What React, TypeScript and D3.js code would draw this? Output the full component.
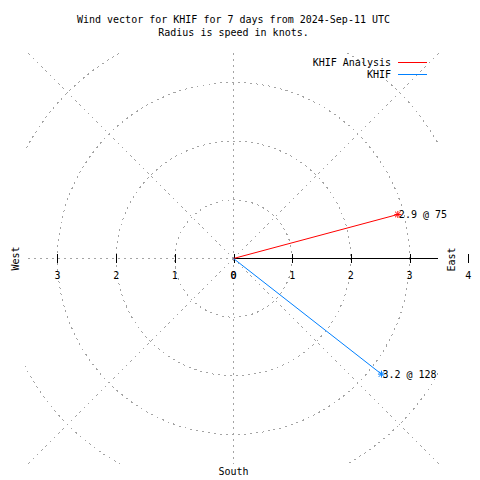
import React from "react";
import * as d3 from "d3";

const seriesNames = ["KHIF Analysis", "KHIF"];
const speeds = [2.9, 3.2];
const directions = [75, 128];
const seriesColors = ["#ff0000", "#0080ff"];
const rings = [1, 2, 3, 4];
const westTicks = [0, 1, 2, 3];
const eastTicks = [0, 1, 2, 3, 4];
const spokeAngles = [0, 45, 135, 180, 225, 270, 315];
const titleLines = [
  "Wind vector for KHIF for 7 days from 2024-Sep-11 UTC",
  "Radius is speed in knots.",
];

const W = 480;
const H = 480;
const cx = 233.5;
const cy = 258.5;
const clip = { x0: 25, y0: 52, x1: 439, y1: 464 };
const FONT = "'DejaVu Sans Mono', monospace";

export default function App() {
  const r = d3.scaleLinear().domain([0, 4]).range([0, 234.7]);
  const pt = (dir: number, v: number): [number, number] => {
    const a = (dir * Math.PI) / 180;
    return [cx + r(v) * Math.sin(a), cy - r(v) * Math.cos(a)];
  };
  const grid = "#a4a4a4";
  const dash = "2,4";
  const tx = (v: number) => Math.round(v) + 0.5;
  return (
    <div style={{ position: "absolute", left: 0, top: 0 }}>
      <svg width={W} height={H} style={{ display: "block", background: "#fff" }}>
        <defs>
          <clipPath id="plotclip">
            <rect x={clip.x0} y={clip.y0} width={clip.x1 - clip.x0} height={clip.y1 - clip.y0} />
          </clipPath>
        </defs>
        <rect x={0} y={0} width={W} height={H} fill="#fff" />
        <g clipPath="url(#plotclip)" shapeRendering="crispEdges">
          {rings.map((k) => (
            <circle key={k} cx={cx} cy={cy} r={r(k)} fill="none" stroke={grid} strokeDasharray={dash} />
          ))}
          {spokeAngles.map((a) => {
            const [x, y] = pt(a, 8);
            return <line key={a} x1={cx} y1={cy} x2={x} y2={y} stroke={grid} strokeDasharray={dash} />;
          })}
          <line x1={cx} y1={cy} x2={clip.x1 - 1} y2={cy} stroke="#000" />
        </g>
        <g shapeRendering="crispEdges">
          {westTicks.map((t) => (
            <line key={"wt" + t} x1={tx(cx - r(t))} x2={tx(cx - r(t))} y1={cy - 4.5} y2={cy + 4.5} stroke="#000" />
          ))}
          {eastTicks.map((t) => (
            <line key={"et" + t} x1={tx(cx + r(t))} x2={tx(cx + r(t))} y1={cy - 4.5} y2={cy + 4.5} stroke="#000" />
          ))}
        </g>
        {westTicks.map((t) => (
          <text key={"w" + t} x={cx - r(t)} y={cy + 20} fontFamily={FONT} fontSize={10} textAnchor="middle">{t}</text>
        ))}
        {eastTicks.map((t) => (
          <text key={"e" + t} x={cx + r(t)} y={cy + 20} fontFamily={FONT} fontSize={10} textAnchor="middle">{t}</text>
        ))}
        <text transform={`translate(19,${cy}) rotate(-90)`} fontFamily={FONT} fontSize={10} textAnchor="middle">West</text>
        <text transform={`translate(455,${cy + 1}) rotate(-90)`} fontFamily={FONT} fontSize={10} textAnchor="middle">East</text>
        <text x={cx} y={475} fontFamily={FONT} fontSize={10} textAnchor="middle">South</text>
        {titleLines.map((l, i) => (
          <text key={i} x={cx} y={23 + i * 13} fontFamily={FONT} fontSize={10} textAnchor="middle">{l}</text>
        ))}
        {seriesNames.map((n, i) => {
          const [x, y] = pt(directions[i], speeds[i]);
          const s = 3.5;
          return (
            <g key={n}>
              <line x1={cx} y1={cy} x2={x} y2={y} stroke={seriesColors[i]} />
              <g stroke={seriesColors[i]}>
                <line x1={x - s} x2={x + s} y1={y} y2={y} />
                <line x1={x} x2={x} y1={y - s} y2={y + s} />
                <line x1={x - s * 0.8} x2={x + s * 0.8} y1={y - s * 0.8} y2={y + s * 0.8} />
                <line x1={x - s * 0.8} x2={x + s * 0.8} y1={y + s * 0.8} y2={y - s * 0.8} />
              </g>
              <text x={x + 1} y={y + 3.5} fontFamily={FONT} fontSize={10}>{`${speeds[i]} @ ${directions[i]}`}</text>
              <text x={391} y={66 + i * 12} fontFamily={FONT} fontSize={10} textAnchor="end">{n}</text>
              <line x1={398} x2={427} y1={62.5 + i * 12} y2={62.5 + i * 12} stroke={seriesColors[i]} shapeRendering="crispEdges" />
            </g>
          );
        })}
      </svg>
    </div>
  );
}
